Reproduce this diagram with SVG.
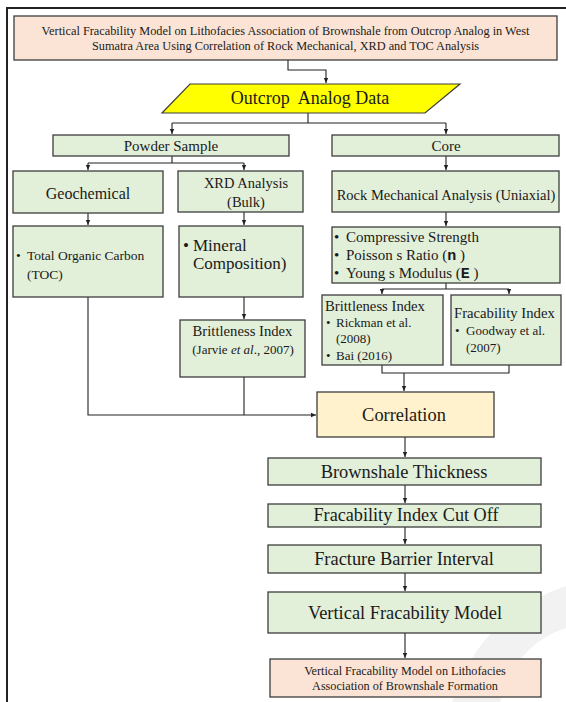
<svg xmlns="http://www.w3.org/2000/svg" width="566" height="702" viewBox="0 0 566 702">
<style>
.t{font-family:"Liberation Serif","Times New Roman",serif;fill:#1a1a1a}
.g{fill:#e2efd9;stroke:#3d3d3d;stroke-width:1.3}
.p{fill:#fbe4d5;stroke:#3d3d3d;stroke-width:1.3}
.c{fill:none;stroke:#222;stroke-width:1.1}
.m{font-family:"Liberation Mono","Courier New",monospace;font-weight:bold}
</style>
<defs>
<marker id="ah" markerWidth="6" markerHeight="6" refX="5" refY="3" orient="auto" markerUnits="userSpaceOnUse">
<path d="M0,0.8 L5,3 L0,5.2 Z" fill="#222"/>
</marker>
</defs>
<rect width="566" height="702" fill="#fff"/>
<path d="M452,702 Q480,615 566,586 L566,628 Q515,645 500,702 Z" fill="#f2f2f2"/>
<path d="M7,702 V8 H566" fill="none" stroke="#222" stroke-width="2"/>

<g id="connectors">
<path class="c" d="M288,60 V70 H326 V83" marker-end="url(#ah)"/>
<path class="c" d="M308,113 V123 M172,123 H446"/>
<path class="c" d="M172,123 V134" marker-end="url(#ah)"/>
<path class="c" d="M446,123 V134" marker-end="url(#ah)"/>
<path class="c" d="M172,156 V163 M88,163 H244"/>
<path class="c" d="M88,163 V170" marker-end="url(#ah)"/>
<path class="c" d="M244,163 V170" marker-end="url(#ah)"/>
<path class="c" d="M446,156 V170" marker-end="url(#ah)"/>
<path class="c" d="M88,213 V225" marker-end="url(#ah)"/>
<path class="c" d="M244,212 V225" marker-end="url(#ah)"/>
<path class="c" d="M446,212 V226" marker-end="url(#ah)"/>
<path class="c" d="M446,283 V289 M382,289 H509"/>
<path class="c" d="M382,289 V294" marker-end="url(#ah)"/>
<path class="c" d="M509,289 V294" marker-end="url(#ah)"/>
<path class="c" d="M244,297 V319" marker-end="url(#ah)"/>
<path class="c" d="M382,365 V373 H509 V365"/>
<path class="c" d="M404,373 V391" marker-end="url(#ah)"/>
<path class="c" d="M88,297 V415 H316" marker-end="url(#ah)"/>
<path class="c" d="M244,377 V415"/>
<path class="c" d="M405,437 V457" marker-end="url(#ah)"/>
<path class="c" d="M405,485 V503" marker-end="url(#ah)"/>
<path class="c" d="M405,527 V544" marker-end="url(#ah)"/>
<path class="c" d="M405,573 V591" marker-end="url(#ah)"/>
<path class="c" d="M405,633 V658" marker-end="url(#ah)"/>
</g>

<g id="title">
<rect class="p" x="14" y="16" width="543" height="44"/>
<text class="t" font-size="12.3" text-anchor="middle" x="285.5" y="35">Vertical Fracability Model on Lithofacies Association of Brownshale from Outcrop Analog in West</text>
<text class="t" font-size="12.3" text-anchor="middle" x="285.5" y="50">Sumatra Area Using Correlation of Rock Mechanical, XRD and TOC Analysis</text>
</g>

<g id="outcrop">
<polygon points="190,84 460,84 425,113 162,113" fill="#ffff00" stroke="#3d3d3d" stroke-width="1.2"/>
<text class="t" font-size="18" text-anchor="middle" x="310" y="104">Outcrop&#160; Analog Data</text>
</g>

<g id="powder">
<rect class="g" x="53" y="135" width="236" height="21"/>
<text class="t" font-size="15" text-anchor="middle" x="171" y="151">Powder Sample</text>
</g>

<g id="core">
<rect class="g" x="332" y="135" width="227" height="21"/>
<text class="t" font-size="15" text-anchor="middle" x="446" y="151">Core</text>
</g>

<g id="geochemical">
<rect class="g" x="13" y="171" width="150" height="42"/>
<text class="t" font-size="16" text-anchor="middle" x="88" y="198.5">Geochemical</text>
</g>

<g id="xrd">
<rect class="g" x="178" y="171" width="125" height="41"/>
<text class="t" font-size="14.5" text-anchor="middle" x="246" y="188">XRD Analysis</text>
<text class="t" font-size="14.5" text-anchor="middle" x="246" y="207">(Bulk)</text>
</g>

<g id="rockmech">
<rect class="g" x="332" y="171" width="227" height="41"/>
<text class="t" font-size="14.5" text-anchor="middle" x="446" y="200">Rock Mechanical Analysis (Uniaxial)</text>
</g>

<g id="toc">
<rect class="g" x="13" y="226" width="150" height="71"/>
<text class="t" font-size="13.5" x="16" y="259.5">•</text>
<text class="t" font-size="13.5" x="27" y="259.5">Total Organic Carbon</text>
<text class="t" font-size="13.5" x="27" y="279">(TOC)</text>
</g>

<g id="mineral">
<rect class="g" x="179" y="226" width="124" height="71"/>
<text class="t" font-size="17" x="183" y="251">•</text>
<text class="t" font-size="17" x="193" y="251">Mineral</text>
<text class="t" font-size="17" x="193" y="269">Composition)</text>
</g>

<g id="params">
<rect class="g" x="332" y="227" width="228" height="56"/>
<text class="t" font-size="15" x="334" y="242">•</text>
<text class="t" font-size="15" x="346" y="242">Compressive Strength</text>
<text class="t" font-size="15" x="334" y="260">•</text>
<text class="t" font-size="15" x="346" y="260">Poisson s Ratio (<tspan class="m">n</tspan> )</text>
<text class="t" font-size="15" x="334" y="278">•</text>
<text class="t" font-size="15" x="346" y="278">Young s Modulus (<tspan class="m">E</tspan> )</text>
</g>

<g id="brittleness-right">
<rect class="g" x="322" y="295" width="121" height="70"/>
<text class="t" font-size="14.7" x="325" y="311">Brittleness Index</text>
<text class="t" font-size="13" x="326" y="327">•</text>
<text class="t" font-size="13" x="336" y="327">Rickman et al.</text>
<text class="t" font-size="13" x="336" y="343">(2008)</text>
<text class="t" font-size="13" x="326" y="360">•</text>
<text class="t" font-size="13" x="336" y="360">Bai (2016)</text>
</g>

<g id="fracability">
<rect class="g" x="451" y="295" width="110" height="70"/>
<text class="t" font-size="14.7" x="454" y="318">Fracability Index</text>
<text class="t" font-size="13" x="455" y="335">•</text>
<text class="t" font-size="13" x="466" y="335">Goodway et al.</text>
<text class="t" font-size="13" x="466" y="352">(2007)</text>
</g>

<g id="brittleness-left">
<rect class="g" x="180" y="320" width="125" height="57"/>
<text class="t" font-size="14.7" text-anchor="middle" x="242.5" y="336">Brittleness Index</text>
<text class="t" font-size="13" text-anchor="middle" x="243" y="354">(Jarvie <tspan font-style="italic">et al</tspan>., 2007)</text>
</g>

<g id="correlation">
<rect x="317" y="392" width="177" height="45" fill="#fff2cc" stroke="#3d3d3d" stroke-width="1.3"/>
<text class="t" font-size="18.4" text-anchor="middle" x="404" y="421">Correlation</text>
</g>

<g id="thickness">
<rect class="g" x="268" y="458" width="273" height="27"/>
<text class="t" font-size="18.4" text-anchor="middle" x="404" y="478">Brownshale Thickness</text>
</g>

<g id="cutoff">
<rect class="g" x="268" y="504" width="273" height="23"/>
<text class="t" font-size="18.2" text-anchor="middle" x="406" y="521">Fracability Index Cut Off</text>
</g>

<g id="barrier">
<rect class="g" x="268" y="545" width="273" height="28"/>
<text class="t" font-size="18.4" text-anchor="middle" x="404" y="565">Fracture Barrier Interval</text>
</g>

<g id="vfm">
<rect class="g" x="268" y="592" width="273" height="41"/>
<text class="t" font-size="18.4" text-anchor="middle" x="405" y="619">Vertical Fracability Model</text>
</g>

<g id="final">
<rect class="p" x="270" y="659" width="271" height="38"/>
<text class="t" font-size="12.2" text-anchor="middle" x="405" y="675">Vertical Fracability Model on Lithofacies</text>
<text class="t" font-size="12.2" text-anchor="middle" x="405" y="690">Association of Brownshale Formation</text>
</g>
</svg>
